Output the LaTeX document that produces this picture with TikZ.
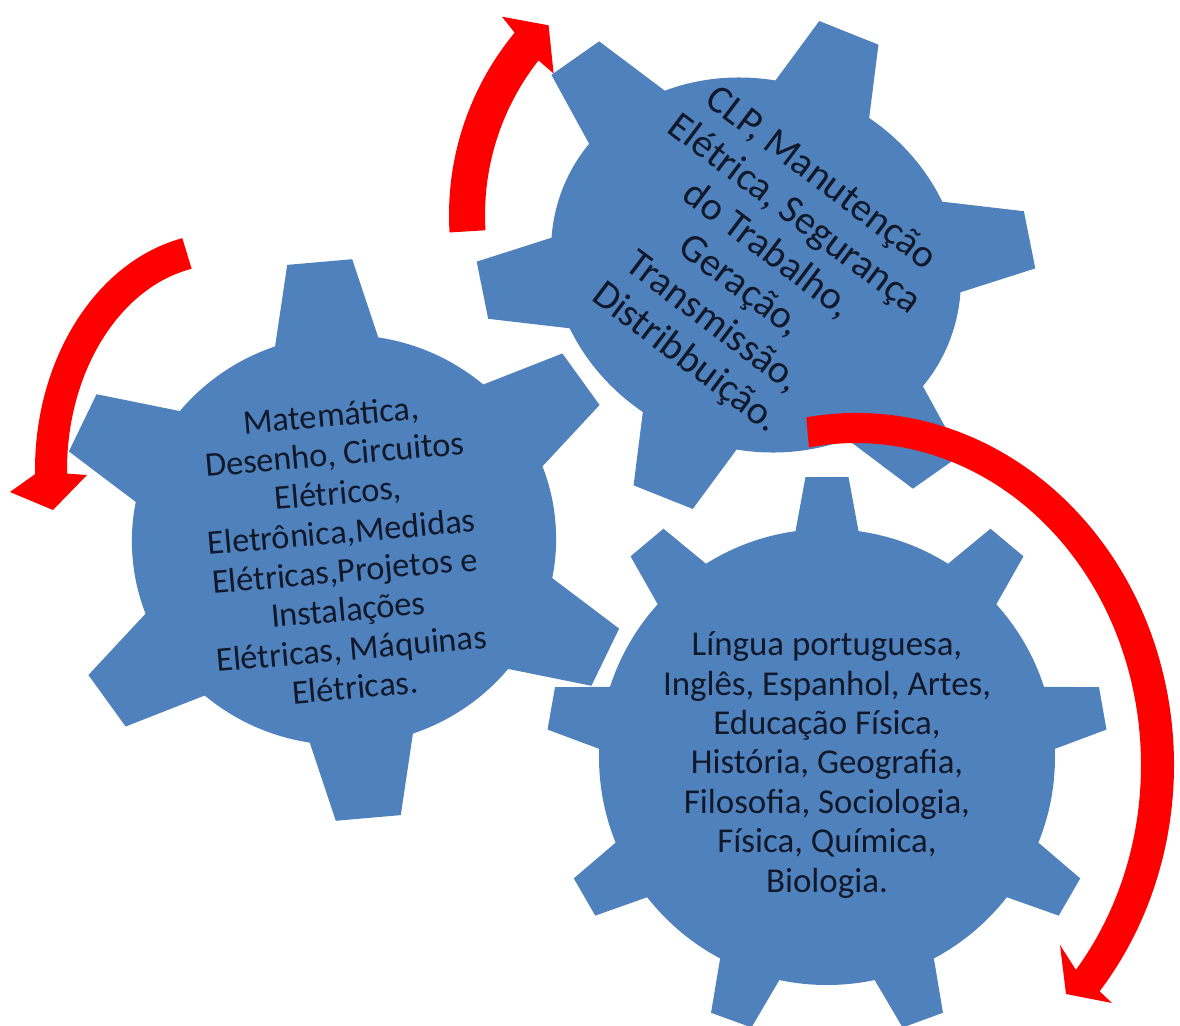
\documentclass[tikz,border=0pt]{standalone}
\usepackage{fontspec}
\setmainfont{Carlito}
\definecolor{gearblue}{HTML}{4F81BD}
\definecolor{arrowred}{HTML}{FF0000}
\definecolor{ink}{HTML}{10182A}

\begin{document}
\begin{tikzpicture}[x=1pt,y=-1pt,
  gearfill/.style={fill=gearblue},
  redarrow/.style={fill=arrowred},
  geartext/.style={text=ink, align=center, inner sep=0pt}]
\useasboundingbox (0,0) rectangle (1180,1025);
\clip (0,0) rectangle (1180,1025);

% left gear, six teeth
\begin{scope}[shift={(344,540)}, x=1pt, y=1pt, rotate=5, xscale=1.035]
  \fill[gearfill] (0,0) circle[radius=205];
  \foreach \k in {0,...,5}
    \fill[gearfill, rotate=90+60*\k] (279,-31.5) -- (279,31.5) -- (170,56.7) -- (170,-56.7) -- cycle;
\end{scope}

% upper gear, six teeth, slightly stretched
\begin{scope}[shift={(756,265)}, x=1pt, y=1pt, rotate=-21.8, xscale=1.13]
  \fill[gearfill] (0,0) circle[radius=184];
  \foreach \k in {0,...,5}
    \fill[gearfill, rotate=90+60*\k] (250,-28.2) -- (250,28.2) -- (152,50.8) -- (152,-50.8) -- cycle;
\end{scope}

% lower gear, nine teeth
\begin{scope}[shift={(827,757)}, x=1pt, y=1pt]
  \fill[gearfill] (0,0) circle[radius=228];
  \foreach \k in {0,...,8}
    \fill[gearfill, rotate=90+40*\k] (280,-21.5) -- (280,21.5) -- (200,36.3) -- (200,-36.3) -- cycle;
\end{scope}

% gear labels
\node[geartext, rotate=5, font=\fontsize{34.4}{39}\selectfont] (lefttext) at (343,551)
  {Matemática,\\Desenho, Circuitos\\Elétricos,\\Eletrônica,Medidas\\Elétricas,Projetos e\\Instalações\\Elétricas, Máquinas\\Elétricas.};
\node[geartext, rotate=-37, font=\fontsize{39.8}{45}\selectfont] (toptext) at (753,269)
  {CLP, Manutenção\\Elétrica, Segurança\\do Trabalho,\\Geração,\\Transmissão,\\Distribbuição.};
\node[geartext, font=\fontsize{34.9}{39.4}\selectfont] (bottomtext) at (827,765)
  {Língua portuguesa,\\Inglês, Espanhol, Artes,\\Educação Física,\\História, Geografia,\\Filosofia, Sociologia,\\Física, Química,\\Biologia.};

% curved arrow rising towards the upper gear
\begin{scope}[shift={(735,215)}, x=1pt, y=1pt]
  \fill[redarrow] (183.5:286) arc[start angle=183.5, end angle=140.4, radius=286]
    -- (139.6:306) -- (134.5:266) -- (142.05:230) -- (141.8:250)
    arc[start angle=141.8, end angle=183.5, radius=250] -- cycle;
\end{scope}

% curved arrow falling on the left
\begin{scope}[shift={(221,470)}, x=1pt, y=1pt]
  \fill[redarrow] (102:186 and 237) arc[start angle=102, end angle=181, x radius=186, y radius=237]
    -- (-211,-22) -- (-168,-40) -- (-134,-5)
    -- (181:154 and 205) arc[start angle=181, end angle=101, x radius=154, y radius=205] -- cycle;
\end{scope}

% long arrow sweeping down the right side
\begin{scope}[shift={(856,765)}, x=1pt, y=1pt]
  \fill[redarrow] (99:318 and 352) arc[start angle=99, end angle=-40, x radius=318, y radius=352]
    -- (256,-238) -- (210,-229) -- (204,-180)
    -- (-39.5:285 and 322) arc[start angle=-39.5, end angle=99.5, x radius=285, y radius=322] -- cycle;
\end{scope}
\end{tikzpicture}
\end{document}
